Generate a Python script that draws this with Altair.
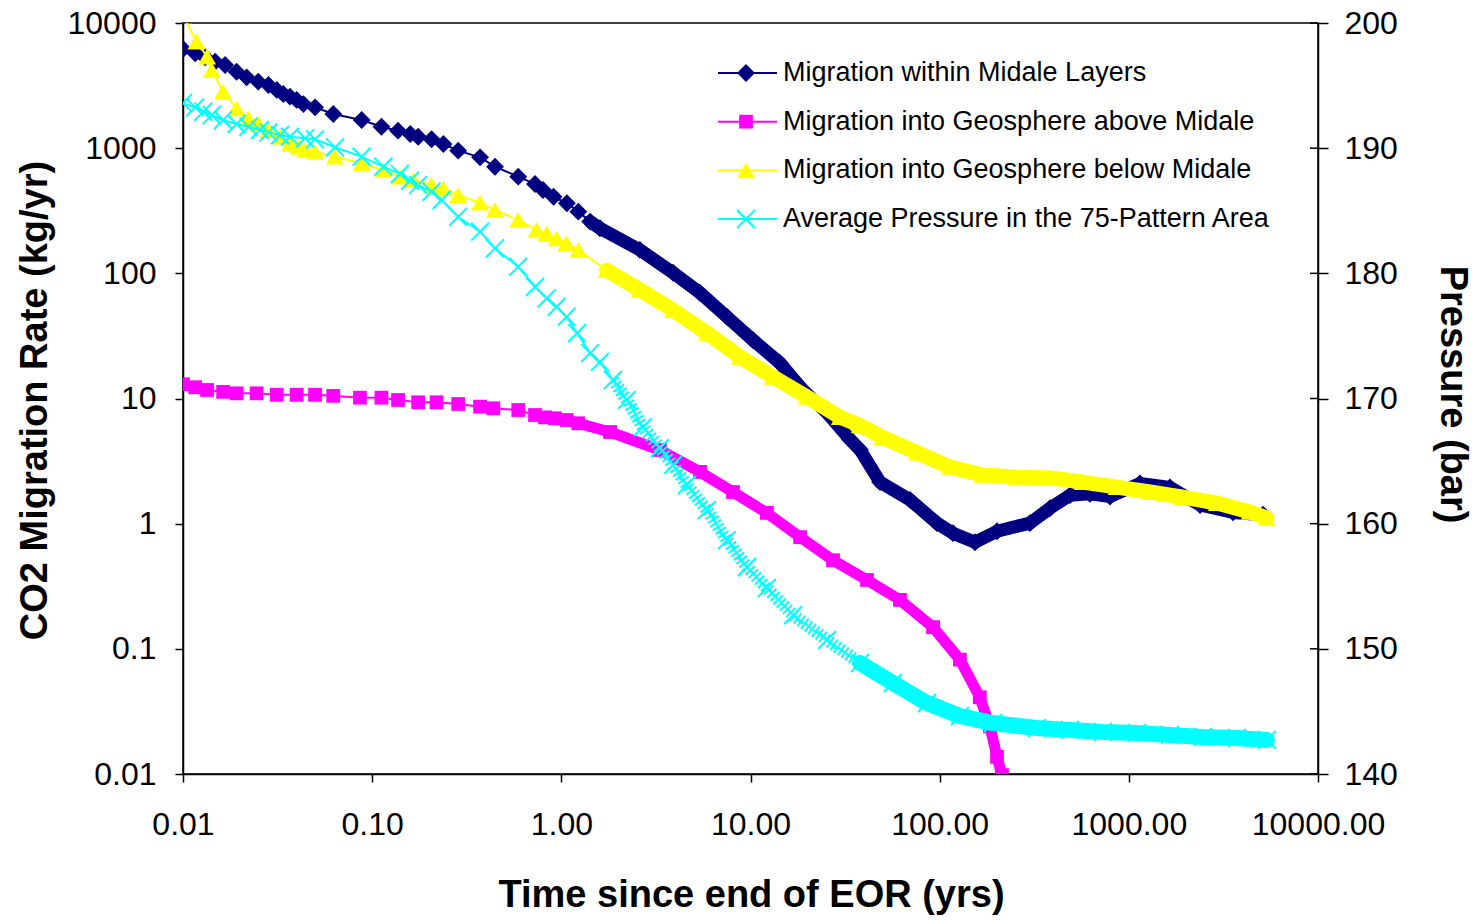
import altair as alt
import pandas as pd

# ---------------- data ----------------
names = ["Migration within Midale Layers",
         "Migration into Geosphere above Midale",
         "Migration into Geosphere below Midale",
         "Average Pressure in the 75-Pattern Area"]
colors = ["#000080", "#FF00FF", "#FFFF00", "#00FFFF"]
X_PATH = "M-1,-1L1,1M-1,1L1,-1"
shapes = ["diamond", "square", "triangle-up", X_PATH]

x_ticks = [0.01, 0.1, 1, 10, 100, 1000, 10000]
rate_ticks = [0.01, 0.1, 1, 10, 100, 1000, 10000]
pressure_ticks = [140, 150, 160, 170, 180, 190, 200]

# Migration within Midale Layers (kg/yr)
t_within = [0.01, 0.0116, 0.0131, 0.0148, 0.0167, 0.0192, 0.0217, 0.025, 0.0283, 0.0313,
            0.0339, 0.0368, 0.0399, 0.0433, 0.0499, 0.0623, 0.088, 0.112, 0.137, 0.159,
            0.175, 0.206, 0.238, 0.285, 0.372, 0.446, 0.592, 0.726, 0.80, 0.91,
            1.07, 1.23, 1.42, 1.60, 2.6, 3.9, 5.4, 7.5, 10.3, 14.3,
            18.9, 25.4, 33.6, 37.9, 48.4, 69.7, 96.8, 117.6, 153.7, 201,
            300, 383, 489, 623, 795, 1145, 1650, 2380, 3555, 5120]
r_within = [6200, 5730, 5320, 4910, 4620, 4080, 3680, 3400, 3200, 2920,
            2710, 2580, 2430, 2250, 2120, 1875, 1680, 1484, 1380, 1298,
            1235, 1177, 1080, 955, 845, 711, 592, 517, 463, 409,
            363, 311, 259, 229, 154, 101, 70, 45, 29.3, 19.2,
            11.7, 7.7, 4.7, 3.9, 2.15, 1.55, 1.01, 0.84, 0.71, 0.87,
            1.01, 1.33, 1.69, 1.73, 1.65, 2.1, 1.95, 1.41, 1.23, 1.18]

# Migration into Geosphere above Midale (kg/yr)
t_above = [0.01, 0.0116, 0.0134, 0.0163, 0.0192, 0.0245, 0.0313, 0.0399, 0.0499, 0.0623,
           0.0862, 0.112, 0.137, 0.175, 0.219, 0.285, 0.372, 0.437, 0.592, 0.726,
           0.82, 0.926, 1.067, 1.23, 1.81, 3.32, 5.41, 8.08, 12.2, 18.3,
           27.3, 41.3, 61.7, 92.3, 128, 163, 184.5, 201, 213.5]
r_above = [13.0, 12.3, 11.7, 11.3, 11.0, 11.0, 10.7, 10.7, 10.7, 10.5,
           10.15, 10.15, 9.73, 9.33, 9.33, 9.04, 8.61, 8.35, 8.09, 7.38,
           7.07, 6.95, 6.73, 6.34, 5.40, 3.88, 2.59, 1.79, 1.22, 0.78,
           0.51, 0.355, 0.246, 0.149, 0.082, 0.041, 0.024, 0.0137, 0.0098]

# Migration into Geosphere below Midale (kg/yr)
t_below = [0.01, 0.0118, 0.0134, 0.0142, 0.0163, 0.0192, 0.0222, 0.025, 0.0283, 0.0326,
           0.0368, 0.0407, 0.0442, 0.0499, 0.0636, 0.088, 0.1145, 0.140, 0.165, 0.206,
           0.238, 0.285, 0.372, 0.446, 0.592, 0.741, 0.837, 0.945, 1.067, 1.23,
           1.74, 2.6, 3.89, 5.89, 8.8, 13.15, 19.9, 29.7, 37.9, 50,
           75.9, 113.4, 169.4, 256, 383, 572, 865, 1294, 1933, 2924,
           4368, 5375]
r_below = [11500, 7100, 5380, 4210, 2830, 2080, 1730, 1580, 1396, 1235,
           1094, 1028, 967, 937, 855, 757, 670, 592, 557, 508,
           478, 422, 367, 321, 267, 222, 209, 190, 174, 154,
           106, 74, 51, 33.4, 21.5, 14.9, 10.3, 7.1, 6.1, 4.9,
           3.7, 2.84, 2.45, 2.36, 2.32, 2.15, 1.96, 1.79, 1.63, 1.46,
           1.24, 1.11]

# Average Pressure in the 75-Pattern Area (bar)
t_press = [0.01, 0.0116, 0.0128, 0.0142, 0.0163, 0.0192, 0.0222, 0.0255, 0.0283, 0.0326,
           0.0368, 0.0442, 0.0499, 0.0636, 0.088, 0.1145, 0.140, 0.1585, 0.175, 0.206,
           0.233, 0.285, 0.372, 0.446, 0.592, 0.726, 0.837, 0.945, 1.067, 1.21,
           1.42, 1.60, 1.875, 2.22, 2.70, 3.32, 3.89, 4.61, 5.89, 7.51,
           9.58, 12.2, 16.8, 25.4, 37.9, 56.6, 85.7, 128, 191, 327,
           489, 730, 1104, 1650, 2466, 3730, 5375]
p_press = [193.6, 193.26, 192.91, 192.65, 192.25, 191.93, 191.71, 191.45, 191.26, 191.05,
           190.92, 190.79, 190.71, 190.07, 189.32, 188.52, 187.94, 187.40, 187.06, 186.52,
           185.86, 184.52, 183.33, 182.0, 180.53, 178.93, 178.0, 177.33, 176.53, 175.23,
           173.63, 172.92, 171.48, 169.88, 167.72, 166.04, 164.69, 163.09, 161.09, 158.69,
           156.54, 154.86, 152.70, 150.71, 148.87, 147.27, 145.67, 144.63, 144.07, 143.67,
           143.52, 143.36, 143.28, 143.12, 142.96, 142.88, 142.72]

rates = pd.concat([
    pd.DataFrame({"t": t_within, "rate": r_within, "series": names[0]}),
    pd.DataFrame({"t": t_above, "rate": r_above, "series": names[1]}),
    pd.DataFrame({"t": t_below, "rate": r_below, "series": names[2]}),
], ignore_index=True)
press = pd.DataFrame({"t": t_press, "pressure": p_press, "series": names[3]})
ptick_df = pd.DataFrame({"pressure": pressure_ticks})
legend_df = pd.DataFrame({"series": names, "row": [0, 1, 2, 3]})

# ---------------- styling ----------------
FONT = "Liberation Sans"
W, H = 1135, 751

X = alt.X("t:Q",
          scale=alt.Scale(type="log", domain=[0.01, 10000], nice=False),
          axis=alt.Axis(values=x_ticks, format=".2f", title="Time since end of EOR (yrs)",
                        orient="bottom", grid=False, tickSize=8, tickWidth=1.5, tickColor="black",
                        domainColor="black", domainWidth=1.5, labelFont=FONT, labelFontSize=32,
                        labelColor="black", labelPadding=27, labelFlush=False, labelOverlap=False,
                        titleFont=FONT, titleFontSize=38, titleFontWeight="bold", titleColor="black",
                        titleX=568, titleY=121, titleAlign="center", titleBaseline="middle"))

Y_RATE = alt.Y("rate:Q",
               scale=alt.Scale(type="log", domain=[0.01, 10000], nice=False),
               axis=alt.Axis(values=rate_ticks, format="~g", title="CO2 Migration Rate (kg/yr)",
                             orient="left", grid=False, tickSize=8, tickWidth=1.5, tickColor="black",
                             domainColor="black", domainWidth=1.5, labelFont=FONT, labelFontSize=32,
                             labelColor="black", labelPadding=19, labelFlush=False, labelOverlap=False,
                             titleFont=FONT, titleFontSize=38, titleFontWeight="bold", titleColor="black",
                             titleAngle=270, titleX=-148, titleY=377, titleAlign="center",
                             titleBaseline="middle"))

Y_P = alt.Y("pressure:Q",
            scale=alt.Scale(domain=[140, 200], nice=False, zero=False),
            axis=alt.Axis(values=pressure_ticks, title="Pressure (bar)",
                          orient="right", grid=False, tickSize=10, tickWidth=1.5, tickColor="black",
                          domainColor="black", domainWidth=1.5, labelFont=FONT, labelFontSize=32,
                          labelColor="black", labelPadding=16, labelFlush=False, labelOverlap=False,
                          titleFont=FONT, titleFontSize=38, titleFontWeight="bold", titleColor="black",
                          titleAngle=90, titleX=133, titleY=371, titleAlign="center",
                          titleBaseline="middle"))

COLOR = alt.Color("series:N", scale=alt.Scale(domain=names, range=colors), legend=None)
SHAPE = alt.Shape("series:N", scale=alt.Scale(domain=names, range=shapes), legend=None)

marker_size = [320, 190, 330, 320]
band_from = [1.3, 0.7, 1.3]
band_width = [13, 11, 15]

# ---------------- left (rate) series ----------------
left_layers = []
for i in range(3):
    base = alt.Chart(rates).transform_filter(alt.datum.series == names[i])
    band = base.transform_filter(alt.datum.t >= band_from[i]).mark_line(
        strokeWidth=band_width[i], strokeJoin="round", strokeCap="round", clip=True
    ).encode(x=X, y=Y_RATE, color=COLOR)
    line = base.mark_line(strokeWidth=2, clip=True).encode(x=X, y=Y_RATE, color=COLOR)
    pts = base.mark_point(filled=True, opacity=1, size=marker_size[i], clip=True).encode(
        x=X, y=Y_RATE, color=COLOR, shape=SHAPE)
    left_layers += [line, band, pts]
left = alt.layer(*left_layers)

# ---------------- right (pressure) series ----------------
pbase = alt.Chart(press)
p_hatch = pbase.transform_filter((alt.datum.t >= 1.8) & (alt.datum.t <= 40)).mark_line(
    strokeWidth=13, strokeDash=[2, 2.5], clip=True).encode(x=X, y=Y_P, color=COLOR)
p_band = pbase.transform_filter(alt.datum.t >= 37).mark_line(
    strokeWidth=16, strokeJoin="round", strokeCap="round", clip=True).encode(x=X, y=Y_P, color=COLOR)
p_line = pbase.mark_line(strokeWidth=2, clip=True).encode(x=X, y=Y_P, color=COLOR)
p_pts = pbase.mark_point(filled=False, opacity=1, strokeWidth=2, size=marker_size[3], clip=True).encode(
    x=X, y=Y_P, color=COLOR, shape=SHAPE)
inner_ticks = alt.Chart(ptick_df).mark_rule(color="black", strokeWidth=1.5).encode(
    y=Y_P, x=alt.value(W - 8), x2=alt.value(W))
right = alt.layer(p_line, p_hatch, p_band, p_pts, inner_ticks)

# ---------------- legend ----------------
LY = alt.Y("row:Q", scale=alt.Scale(domain=[0, 3], range=[50, 196]), axis=None)
leg_layers = [alt.Chart(legend_df).mark_rule(strokeWidth=2).encode(
    y=LY, x=alt.value(535), x2=alt.value(594), color=COLOR)]
for i in range(4):
    leg_layers.append(
        alt.Chart(legend_df).transform_filter(alt.datum.series == names[i]).mark_point(
            filled=(i < 3), opacity=1, strokeWidth=2, size=marker_size[i]
        ).encode(y=LY, x=alt.value(563), color=COLOR, shape=SHAPE))
leg_layers.append(alt.Chart(legend_df).mark_text(
    align="left", baseline="middle", font=FONT, fontSize=27, color="black"
).encode(y=LY, x=alt.value(600), text="series:N"))
legend = alt.layer(*leg_layers)

chart = alt.layer(left, right, legend).resolve_scale(y="independent").properties(
    width=W, height=H,
    padding={"left": 183, "top": 23, "right": 162, "bottom": 146},
    autosize=alt.AutoSizeParams(type="none"),
    background="white",
).configure_view(stroke="black", strokeWidth=1.5)

chart.save("out.html", embed_options={"renderer": "svg", "actions": False})
